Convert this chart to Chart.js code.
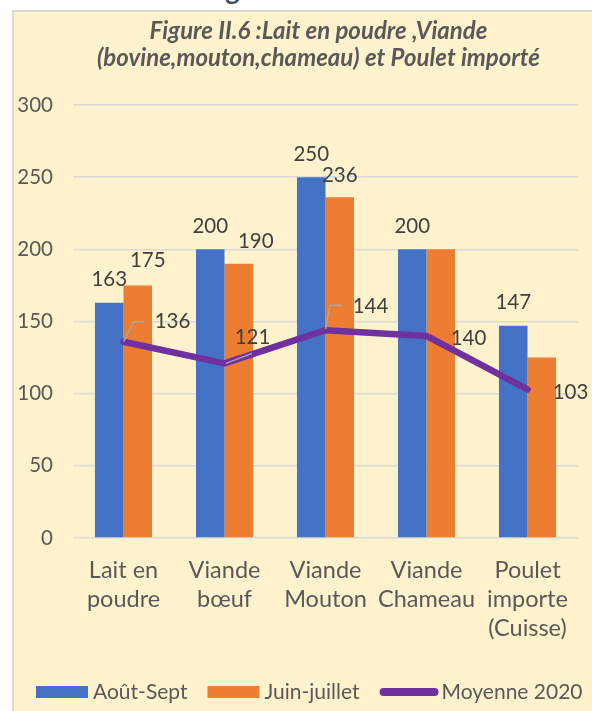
<!DOCTYPE html>
<html>
<head>
<meta charset="utf-8">
<script src="https://cdn.jsdelivr.net/npm/chart.js@4"></script>
<style>
  html, body { margin: 0; padding: 0; background: #fff; }
  body { width: 592px; height: 711px; position: relative; overflow: hidden; font-family: Lato, sans-serif; }
  #head { position: absolute; left: 16px; top: -27px; font: bold 27px Lato, sans-serif; color: #3b4a66; white-space: nowrap; }
  #box { position: absolute; left: 12px; top: 10px; right: 0; bottom: 0; background: #fff2cc;
         border-left: 2px solid #d9d9d9; border-top: 2px solid #d9d9d9; }
  #wrap { position: absolute; left: 0; top: 12px; width: 592px; height: 699px; }
</style>
</head>
<body>
<div id="head">II.3 La Viande rouge.</div>
<div id="box"></div>
<div id="wrap"><canvas id="chart"></canvas></div>
<script>
// ==== Data ====
const titleLines = ["Figure II.6 :Lait en poudre ,Viande", "(bovine,mouton,chameau) et Poulet importé"];
const categories = [
  ["Lait en", "poudre"],
  ["Viande", "bœuf"],
  ["Viande", "Mouton"],
  ["Viande", "Chameau"],
  ["Poulet", "importe", "(Cuisse)"]
];
const aoutSept = [163, 200, 250, 200, 147];
const juinJuillet = [175, 190, 236, 200, 125];
const moyenne2020 = [136, 121, 144, 140, 103];
const yTicks = [0, 50, 100, 150, 200, 250, 300];

// ==== Label placement (dx, dy from the mark; null = hidden) ====
const labelPos = [
  [[0, -23], [0, -23], [0, -23], [0, -23], [0, -23]],
  [[10, -25], [17, -22], [0, -22], null, null],
  [[49, -20], [28, -26], [45, -24], [42, 2], [43, 3]]
];
// leader lines for the line labels (relative to the point)
const leaders = [
  [[0, 0], [10, -20], [21, -20]],
  [[1.5, 0], [27.5, -10]],
  [[0, -1], [4.5, -25], [16.5, -25]],
  null,
  null
];

const FONT = "Lato, sans-serif";
const TEXT = "#595959";

// ==== Title (drawn over the plot centre) ====
const titlePlugin = {
  id: "figTitle",
  afterDraw(chart) {
    const { ctx, chartArea } = chart;
    ctx.save();
    ctx.font = "italic bold 24px " + FONT;
    ctx.fillStyle = TEXT;
    ctx.textAlign = "center";
    ctx.textBaseline = "middle";
    const cx = (chartArea.left + chartArea.right) / 2 - 7;
    titleLines.forEach((t, i) => ctx.fillText(t, cx, 19 + i * 27));
    ctx.restore();
  }
};

// ==== Legend ====
const legendPlugin = {
  id: "figLegend",
  afterDraw(chart) {
    const ctx = chart.ctx;
    const y = chart.height - 19;
    let x = 36;
    ctx.save();
    ctx.font = "21px " + FONT;
    ctx.textAlign = "left";
    ctx.textBaseline = "middle";
    chart.data.datasets.forEach((ds) => {
      if (ds.type === "line") {
        ctx.strokeStyle = ds.borderColor;
        ctx.lineWidth = 8;
        ctx.lineCap = "round";
        ctx.beginPath();
        ctx.moveTo(x + 4, y);
        ctx.lineTo(x + 55, y);
        ctx.stroke();
        x += 62;
      } else {
        ctx.fillStyle = ds.backgroundColor;
        ctx.fillRect(x, y - 6, 52, 12);
        x += 57;
      }
      ctx.fillStyle = TEXT;
      ctx.fillText(ds.label, x, y);
      x += ctx.measureText(ds.label).width + 20;
    });
    ctx.restore();
  }
};

// ==== Value labels ====
const labelPlugin = {
  id: "valueLabels",
  afterDatasetsDraw(chart) {
    const ctx = chart.ctx;
    ctx.save();
    const lineMeta = chart.getDatasetMeta(2);
    ctx.strokeStyle = "#a6a6a6";
    ctx.lineWidth = 1.5;
    lineMeta.data.forEach((pt, i) => {
      const l = leaders[i];
      if (!l) return;
      ctx.beginPath();
      l.forEach(([dx, dy], k) => {
        if (k === 0) ctx.moveTo(pt.x + dx, pt.y + dy);
        else ctx.lineTo(pt.x + dx, pt.y + dy);
      });
      ctx.stroke();
    });
    ctx.font = "20.5px " + FONT;
    ctx.fillStyle = "#404040";
    ctx.textAlign = "center";
    ctx.textBaseline = "middle";
    chart.data.datasets.forEach((ds, di) => {
      const meta = chart.getDatasetMeta(di);
      meta.data.forEach((el, i) => {
        const p = labelPos[di][i];
        if (!p) return;
        ctx.fillText(String(ds.data[i]), el.x + p[0], el.y + p[1]);
      });
    });
    ctx.restore();
  }
};

new Chart(document.getElementById("chart"), {
  type: "bar",
  data: {
    labels: categories,
    datasets: [
      {
        label: "Août-Sept",
        data: aoutSept,
        backgroundColor: "#4472c4",
        barPercentage: 1,
        categoryPercentage: 0.565,
        order: 2
      },
      {
        label: "Juin-juillet",
        data: juinJuillet,
        backgroundColor: "#ed7d31",
        barPercentage: 1,
        categoryPercentage: 0.565,
        order: 2
      },
      {
        type: "line",
        label: "Moyenne 2020",
        data: moyenne2020,
        borderColor: "#7030a0",
        backgroundColor: "#7030a0",
        borderWidth: 6.5,
        borderCapStyle: "round",
        borderJoinStyle: "round",
        pointRadius: 0,
        tension: 0,
        order: 1
      }
    ]
  },
  options: {
    responsive: true,
    maintainAspectRatio: false,
    animation: false,
    layout: { padding: { left: 4, right: 14, top: 93, bottom: 63 } },
    plugins: {
      tooltip: { enabled: false },
      title: { display: false },
      legend: { display: false }
    },
    scales: {
      x: {
        grid: { display: false, drawTicks: false },
        border: { display: false },
        ticks: {
          color: TEXT,
          font: { family: FONT, size: 23.5, lineHeight: "29px" },
          padding: 18,
          maxRotation: 0,
          autoSkip: false
        },
        afterFit(scale) { scale.height = 110; }
      },
      y: {
        min: 0,
        max: 300,
        afterBuildTicks(scale) { scale.ticks = yTicks.map((v) => ({ value: v })); },
        grid: { color: "#d9d9d9", lineWidth: 1.5, drawTicks: false },
        border: { display: false },
        ticks: {
          color: TEXT,
          font: { family: FONT, size: 20.5 },
          padding: 20
        },
        afterFit(scale) { scale.width = 69; }
      }
    }
  },
  plugins: [labelPlugin, titlePlugin, legendPlugin]
});
</script>
</body>
</html>
